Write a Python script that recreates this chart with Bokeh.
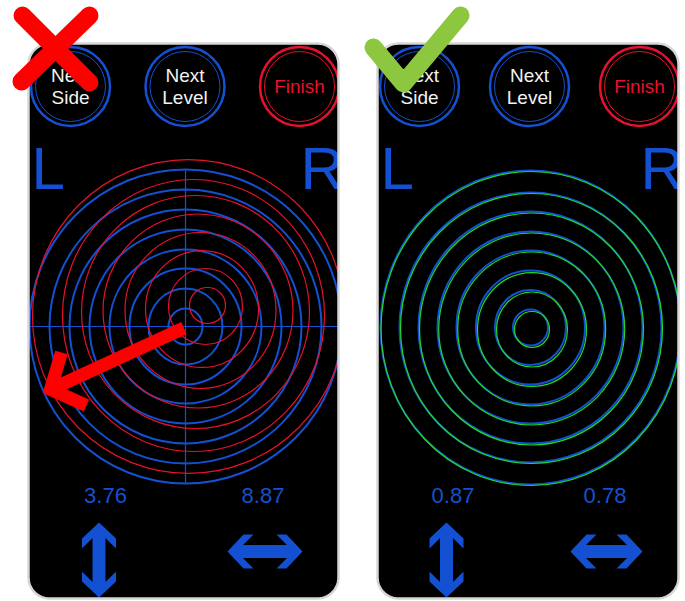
import numpy as np
from bokeh.plotting import figure
from bokeh.models import Range1d
from bokeh.embed import file_html
from bokeh.resources import INLINE
from bokeh.core.properties import value

# ---------------- data ----------------
button_top_lines = ["Next", "Next", ""]
button_bottom_lines = ["Side", "Level", ""]
button_single = ["", "", "Finish"]
side_letters = ["L", "R"]

# left ("wrong") screen: blue reference rings (horizontal / vertical radii)
left_blue_rx = [17, 37, 56, 76, 96, 116, 136, 156]
left_blue_ry = [18, 38, 58, 77, 97, 117, 137, 157]
# red measured rings: centre offsets from the crosshair, radii
left_red_dx = [22, 20, 16.5, 15, 12.5, 10, 8, 3]
left_red_dy = [-21, -20, -17.5, -16, -15.5, -14.5, -11, -10]
left_red_rx = [18, 37, 56.5, 75.5, 95, 114, 131, 156]
left_red_ry = [18, 38, 58.5, 78, 97, 116.5, 136, 157]
left_readings = ["3.76", "8.87"]

# right ("correct") screen: blue rings and green rings
right_blue_rx = [17.5, 35.5, 54.5, 74, 93, 112, 131, 150]
right_blue_ry = [18, 37.5, 57, 77, 96, 116, 135, 157]
right_green_dx = [1.5, 1.5, 1.5, 1.2, 1.2, 1, 1, 0.5]
right_green_dy = [2, 2, 2, 1.5, 1.5, 1.5, 1, 1]
right_readings = ["0.87", "0.78"]

# ---------------- styling / layout ----------------
BLUE = "#1450d2"
RED = "#e8112d"
GREEN = "#22d822"
BRIGHT_RED = "#fe0000"
CHECK_GREEN = "#8dc63f"
FONT = value("Liberation Sans")

W, H = 685, 601
p = figure(width=W, height=H, x_range=Range1d(0, W), y_range=Range1d(H, 0),
           output_backend="svg", toolbar_location=None, min_border=0,
           x_axis_location=None, y_axis_location=None)
p.grid.visible = False
p.outline_line_color = None
p.background_fill_color = "white"
p.border_fill_color = "white"

phones = [dict(x0=28, x1=338), dict(x0=377, x1=678)]
PH_TOP, PH_BOT, PH_R = 43, 598, 21


def rounded_rect(x0, x1, y0, y1, r, n=14):
    xs, ys = [], []
    corners = [(x1 - r, y0 + r, -90, 0), (x1 - r, y1 - r, 0, 90),
               (x0 + r, y1 - r, 90, 180), (x0 + r, y0 + r, 180, 270)]
    for cx, cy, a0, a1 in corners:
        t = np.radians(np.linspace(a0, a1, n))
        xs.extend(cx + r * np.cos(t))
        ys.extend(cy + r * np.sin(t))
    return xs, ys


outlines = [rounded_rect(ph["x0"], ph["x1"], PH_TOP, PH_BOT, PH_R) for ph in phones]
p.patches(xs=[o[0] for o in outlines], ys=[o[1] for o in outlines],
          fill_color="black", line_color=None)

# ---- left screen rings ----
LC = (185, 326)
rmax = left_blue_rx[-1]
p.segment(x0=[LC[0] - rmax, LC[0]], y0=[LC[1], LC[1] - left_blue_ry[-1]],
          x1=[LC[0] + rmax, LC[0]], y1=[LC[1], LC[1] + left_blue_ry[-1]],
          line_color=BLUE, line_width=1.2)
p.ellipse(x=[LC[0]] * len(left_blue_rx), y=[LC[1]] * len(left_blue_rx),
          width=[2 * r for r in left_blue_rx], height=[2 * r for r in left_blue_ry],
          fill_color=None, line_color=BLUE, line_width=2)
p.ellipse(x=[LC[0] + d for d in left_red_dx], y=[LC[1] + d for d in left_red_dy],
          width=[2 * r for r in left_red_rx], height=[2 * r for r in left_red_ry],
          fill_color=None, line_color=RED, line_width=1.2)

# red direction arrow on the wrong screen
p.multi_line(xs=[[183.5, 50], [61, 50, 86]], ys=[[327.5, 389], [352, 389, 405]],
             line_color=BRIGHT_RED, line_width=13, line_cap="butt", line_join="miter")

# ---- right screen rings ----
RC = (530, 327)
p.ellipse(x=[RC[0]] * len(right_blue_rx), y=[RC[1]] * len(right_blue_rx),
          width=[2 * r for r in right_blue_rx], height=[2 * r for r in right_blue_ry],
          fill_color=None, line_color=BLUE, line_width=2)
p.ellipse(x=[RC[0] + d for d in right_green_dx], y=[RC[1] + d for d in right_green_dy],
          width=[2 * r for r in right_blue_rx], height=[2 * r for r in right_blue_ry],
          fill_color=None, line_color=GREEN, line_width=1.2)

# ---- buttons ----
button_x = [[70, 184.5, 299], [419, 529, 639]]
button_col = [BLUE, BLUE, RED]
BY = 86
for bx in button_x:
    p.circle(x=bx, y=[BY] * 3, radius=[39.5] * 3, fill_color=None,
             line_color=button_col, line_width=2.5)
    p.circle(x=bx, y=[BY] * 3, radius=[35] * 3, fill_color=None,
             line_color=button_col, line_width=1)
    p.text(x=bx, y=[75] * 3, text=button_top_lines, text_font=FONT, text_font_size="19px",
           text_align="center", text_baseline="alphabetic", text_color="#f2f2f2")
    p.text(x=bx, y=[97] * 3, text=button_bottom_lines, text_font=FONT, text_font_size="19px",
           text_align="center", text_baseline="alphabetic", text_color="#f2f2f2")
    p.text(x=bx, y=[86] * 3, text=button_single, text_font=FONT, text_font_size="19px",
           text_align="center", text_baseline="alphabetic", text_color=RED)

# ---- L / R letters ----
p.text(x=[31, 300, 380, 640], y=[168] * 4, text=side_letters * 2, text_font=FONT,
       text_font_size="60px", text_align="left", text_baseline="alphabetic", text_color=BLUE)

# ---- readings ----
p.text(x=[105, 262.5, 452.5, 604.5], y=[495] * 4, text=left_readings + right_readings,
       text_font=FONT, text_font_size="22px", text_align="center",
       text_baseline="alphabetic", text_color=BLUE)


# ---- double arrows ----
def double_arrow(cx, cy, L, vertical):
    hw, sw = 17, 6.5
    t = [L, L - 16, L - 26, L - 15.5, -(L - 15.5), -(L - 26), -(L - 16), -L,
         -(L - 16), -(L - 26), -(L - 15.5), L - 15.5, L - 26, L - 16]
    n = [0, hw, hw, sw, sw, hw, hw, 0, -hw, -hw, -sw, -sw, -hw, -hw]
    if vertical:
        return [cx + v for v in n], [cy + v for v in t]
    return [cx + v for v in t], [cy + v for v in n]


arrows = [double_arrow(98.5, 559.5, 37.5, True), double_arrow(264.5, 551, 37.5, False),
          double_arrow(446, 559.5, 37.5, True), double_arrow(606, 551, 36, False)]
p.patches(xs=[a[0] for a in arrows], ys=[a[1] for a in arrows], fill_color=BLUE, line_color=None)

# ---- white masks outside the screens ----
p.quad(left=[-10, 338, 678], right=[28, 377, 700], top=[-10, -10, -10], bottom=[620, 620, 620],
       fill_color="white", line_color=None)

# ---- phone borders ----
p.patches(xs=[o[0] for o in outlines], ys=[o[1] for o in outlines],
          fill_color=None, line_color="#d6d6d6", line_width=2.5)

# ---- X and check marks ----
p.multi_line(xs=[[22, 89], [89, 21]], ys=[[15, 82], [15, 81]], line_color=BRIGHT_RED,
             line_width=18, line_cap="round")
p.line(x=[373, 403, 460], y=[47, 83, 15], line_color=CHECK_GREEN, line_width=18,
       line_cap="round", line_join="round")

open("out.html", "w").write(file_html(p, INLINE))
